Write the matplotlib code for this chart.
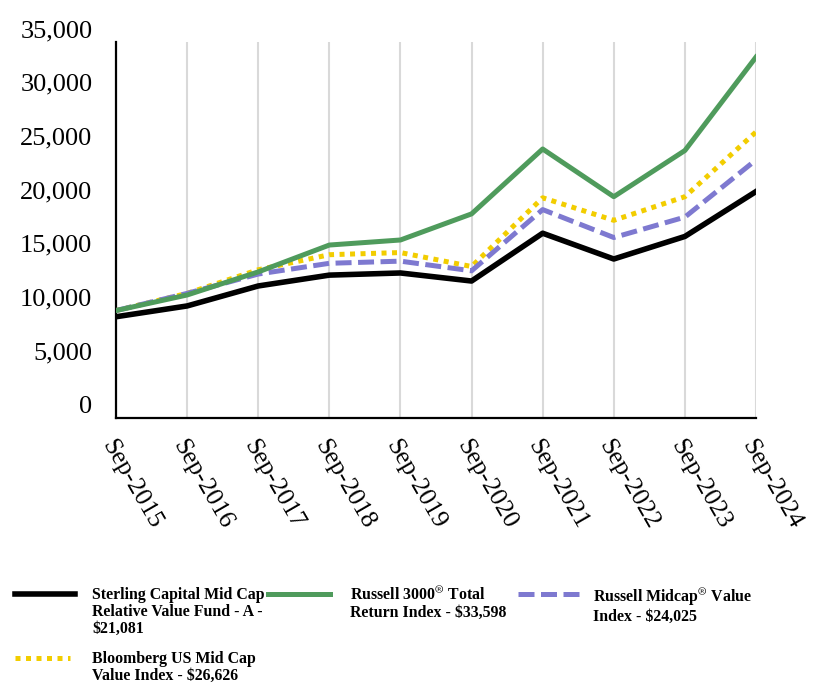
import matplotlib.pyplot as plt
from matplotlib.lines import Line2D
from matplotlib.ticker import FuncFormatter

plt.rcParams['font.family'] = ['Liberation Serif', 'DejaVu Serif']
plt.rcParams['mathtext.fontset'] = 'stix'

# 数据
years = ['Sep-2015', 'Sep-2016', 'Sep-2017', 'Sep-2018', 'Sep-2019',
         'Sep-2020', 'Sep-2021', 'Sep-2022', 'Sep-2023', 'Sep-2024']
sterling = [9425, 10430, 12290, 13300, 13500, 12750, 17200, 14800, 16900, 21081]
russell3000 = [10000, 11450, 13600, 16100, 16570, 19000, 25040, 20600, 24900, 33598]
bloomberg = [10000, 11600, 13800, 15200, 15400, 14100, 20500, 18400, 20600, 26626]
midcap_value = [10000, 11600, 13400, 14400, 14600, 13700, 19400, 16800, 18700, 24025]

labels = ['Sterling Capital Mid Cap\nRelative Value Fund - A -\n$21,081',
          'Russell 3000$^{®}$ Total\nReturn Index - $33,598',
          'Russell Midcap$^{®}$ Value\nIndex - $24,025',
          'Bloomberg US Mid Cap\nValue Index - $26,626']

c_black = '#000000'
c_green = '#4f9b5c'
c_purple = '#7e79d0'
c_yellow = '#f2cd00'

fig = plt.figure(figsize=(8.28, 6.84), dpi=100)
ax = fig.add_axes([116 / 828, 1 - 418 / 684, 640 / 828, 376 / 684])

x = list(range(len(years)))
ax.plot(x, bloomberg, color=c_yellow, lw=3.6, ls=(0, (1, 1.1)),
        dash_capstyle='butt', zorder=3)
ax.plot(x, midcap_value, color=c_purple, lw=3.6, ls=(0, (3.2, 1.3)),
        dash_capstyle='butt', zorder=4)
ax.plot(x, russell3000, color=c_green, lw=3.6, zorder=5)
ax.plot(x, sterling, color=c_black, lw=4.0, zorder=6)

ax.set_xlim(0, len(years) - 1)
ax.set_ylim(0, 35000)
ax.set_yticks(range(0, 35001, 5000))
ax.yaxis.set_major_formatter(FuncFormatter(lambda v, p: f'{int(v):,}'))
ax.set_xticks(x)
ax.set_xticklabels(years, rotation=-60, ha='left', va='top',
                   rotation_mode='anchor')
ax.tick_params(axis='both', length=0)
ax.tick_params(axis='y', pad=17, labelsize=19)
ax.tick_params(axis='x', pad=13, labelsize=18.5)
for t in ax.get_yticklabels():
    t.set_va('bottom')

ax.grid(axis='x', color='#d9d9d9', lw=1.5)
ax.set_axisbelow(True)
for s in ['top', 'right']:
    ax.spines[s].set_visible(False)
for s in ['left', 'bottom']:
    ax.spines[s].set_linewidth(1.6)

# 图例（手动放置）
W, H = 828, 684
entries = [
    (15, 75, 594, 92, c_black, '-', 4.0, labels[0]),
    (268, 330, 594, 350, c_green, '-', 3.6, labels[1]),
    (518, 580, 594, 593, c_purple, (0, (3.2, 1.3)), 3.6, labels[2]),
    (15, 70, 658, 92, c_yellow, (0, (1, 1.1)), 3.6, labels[3]),
]
for x0, x1, yy, tx, col, ls, lw, lab in entries:
    fig.add_artist(Line2D([x0 / W, x1 / W], [1 - yy / H, 1 - yy / H],
                          color=col, ls=ls, lw=lw, dash_capstyle='butt',
                          transform=fig.transFigure))
    fig.text(tx / W, 1 - (yy - 7) / H, lab, ha='left', va='top',
             fontsize=11.4, fontweight='bold', linespacing=1.08)

fig.savefig('out.png', dpi=100, facecolor='white')
